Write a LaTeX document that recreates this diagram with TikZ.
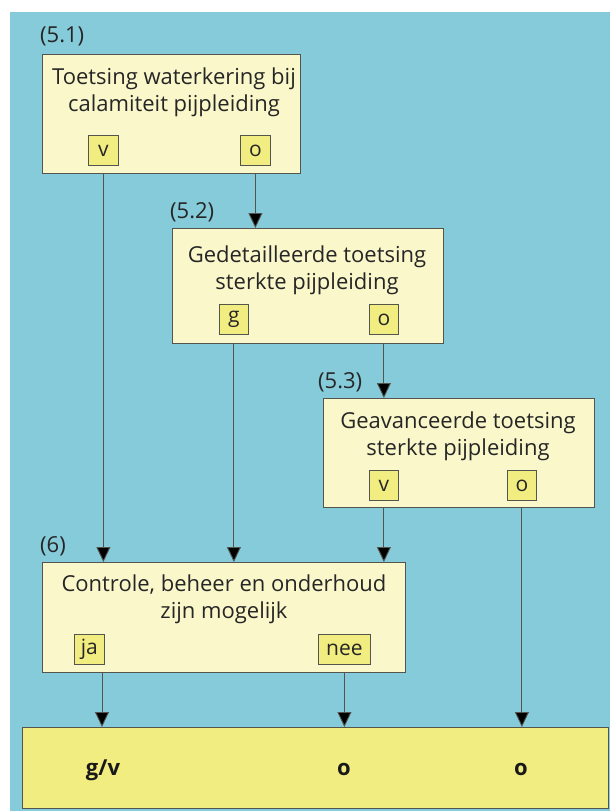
\documentclass[tikz,border=0pt]{standalone}
\usepackage{fontspec}
\setmainfont{Open Sans}
\usetikzlibrary{arrows.meta}
\definecolor{bgblue}{RGB}{133,203,218}
\definecolor{paleyel}{RGB}{250,248,202}
\definecolor{yel}{RGB}{242,237,128}
\definecolor{edge}{RGB}{85,85,80}
\tikzset{
  bigbox/.style={draw=edge, line width=0.9pt, fill=paleyel, anchor=north west, inner sep=0pt},
  endbox/.style={draw=edge, line width=0.9pt, fill=yel, anchor=north west, inner sep=0pt},
  tag/.style={draw=edge, line width=0.8pt, fill=yel, minimum height=30pt, inner sep=1pt, anchor=north west, font=\fontsize{21}{22}\selectfont, text=black!85},
  txt/.style={align=center, font=\fontsize{22}{27}\selectfont, inner sep=0pt, text=black!85},
  lbl/.style={anchor=base west, font=\fontsize{22}{24}\selectfont, inner sep=0pt, text=black!85},
  res/.style={font=\bfseries\fontsize{22}{24}\selectfont, inner sep=0pt, anchor=base, text=black!90},
  arr/.style={draw=edge, line width=0.9pt, -{Triangle[width=14pt,length=15pt,fill=black]}}
}
\begin{document}
\begin{tikzpicture}[x=1pt,y=-1pt]
\useasboundingbox (0,0) rectangle (610,811);
\fill[bgblue] (10,12) rectangle (610,811);
% box 5.1
\node[bigbox, minimum width=258pt, minimum height=119pt] (b1) at (42,54) {};
\node[txt] (t1) at (174,92) {Toetsing waterkering bij\\calamiteit pijpleiding};
\node[tag, minimum width=30pt] (b1v) at (88,135) {v};
\node[tag, minimum width=30pt] (b1o) at (240,135) {o};
\node[lbl] (l1) at (40,42) {(5.1)};
% box 5.2
\node[bigbox, minimum width=271pt, minimum height=115pt] (b2) at (172,228) {};
\node[txt] (t2) at (307,270) {Gedetailleerde toetsing\\sterkte pijpleiding};
\node[tag, minimum width=29pt] (b2g) at (219,304) {g};
\node[tag, minimum width=29pt] (b2o) at (369,304) {o};
\node[lbl] (l2) at (170,218) {(5.2)};
% box 5.3
\node[bigbox, minimum width=271pt, minimum height=109pt] (b3) at (323,398) {};
\node[txt] (t3) at (458,436) {Geavanceerde toetsing\\sterkte pijpleiding};
\node[tag, minimum width=29pt] (b3v) at (369,470) {v};
\node[tag, minimum width=29pt] (b3o) at (507,470) {o};
\node[lbl] (l3) at (318,388) {(5.3)};
% box 6
\node[bigbox, minimum width=363pt, minimum height=110pt] (b6) at (42,562) {};
\node[txt] (t6) at (224,599) {Controle, beheer en onderhoud\\zijn mogelijk};
\node[tag, minimum width=30pt] (b6j) at (74,634) {ja};
\node[tag, minimum width=52pt] (b6n) at (318,634) {nee};
\node[lbl] (l6) at (40,552) {(6)};
% end box
\node[endbox, minimum width=586pt, minimum height=81pt] (b7) at (22,727) {};
\node[res] (r1) at (103,775) {g/v};
\node[res] (r2) at (344,775) {o};
\node[res] (r3) at (521,775) {o};
% connectors
\coordinate (x102) at (102,0);
\draw[arr] (b1.south -| b1v) -- (b1v |- b6.north);
\draw[arr] (b1.south -| b1o) -- (b1o |- b2.north);
\draw[arr] (b2.south -| b2g) -- (b2g |- b6.north);
\draw[arr] (b2.south -| b2o) -- (b2o |- b3.north);
\draw[arr] (b3.south -| b3v) -- (b3v |- b6.north);
\draw[arr] (b3.south -| b3o) -- (b3o |- b7.north);
\draw[arr] (b6.south -| x102) -- (x102 |- b7.north);
\draw[arr] (b6.south -| b6n) -- (b6n |- b7.north);
\end{tikzpicture}
\end{document}
